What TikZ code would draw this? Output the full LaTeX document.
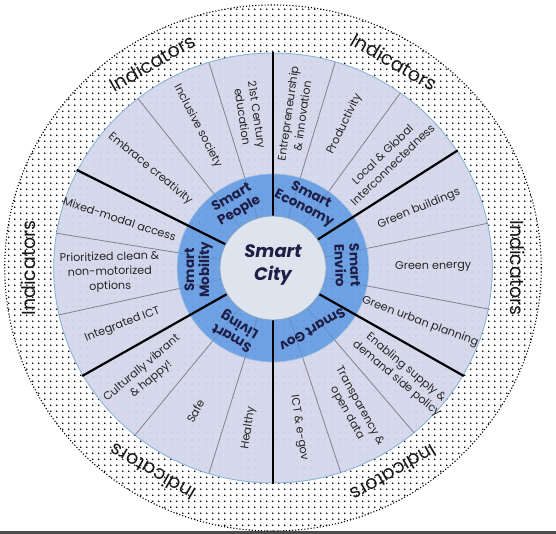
\documentclass[tikz,border=0pt]{standalone}
\usepackage{fontspec}
\setmainfont{Poppins}
\usetikzlibrary{patterns.meta}
\definecolor{lightring}{RGB}{214,216,236}
\definecolor{bluering}{RGB}{110,162,228}
\definecolor{citycol}{RGB}{222,228,238}
\definecolor{navy}{RGB}{30,30,70}
\definecolor{ringedge}{RGB}{140,180,215}
\definecolor{thinline}{RGB}{130,130,142}
\tikzdeclarepattern{
  name=bigdots,
  type=uncolored,
  bounding box={(0pt,0pt) and (6.2pt,6.2pt)},
  tile size={(6.2pt,6.2pt)},
  code={\fill (3.1pt,3.1pt) circle (0.85pt);}
}
\tikzdeclarepattern{
  name=smalldots,
  type=uncolored,
  bounding box={(0pt,0pt) and (7pt,7pt)},
  tile size={(7pt,7pt)},
  code={\fill (3.5pt,3.5pt) circle (0.55pt);}
}
\tikzset{
  item/.style={font=\fontsize{11.2}{14.5}\selectfont, align=center, inner sep=0pt, text=black!85},
  cat/.style={font=\bfseries\fontsize{13.5}{15}\selectfont, text=navy, align=center, inner sep=0pt},
  ind/.style={font=\fontsize{19}{21}\selectfont, inner sep=0pt, text=black!90},
  thin/.style={draw=thinline, line width=0.8pt},
  thinblue/.style={draw=bluering!75!black, line width=0.6pt, opacity=0.5},
  divider/.style={draw=black, line width=2.2pt}
}
\begin{document}
\begin{tikzpicture}[x=1.02pt,y=1pt]
\useasboundingbox (-273pt,-266pt) rectangle (283pt,268pt);
\fill[white] (-273pt,-266pt) rectangle (283pt,268pt);
\fill[black!70] (-273pt,-266pt) rectangle (283pt,-263pt);
% outer dotted ring
\fill[pattern=bigdots, pattern color=black] (0,0) circle[radius=263];
\draw[dotted, line width=1.1pt] (0,0) circle[radius=263];
% light ring
\fill[lightring] (0,0) circle[radius=215];
\fill[pattern=smalldots, pattern color=gray!70] (0,0) circle[radius=215];
\draw[ringedge, line width=0.9pt] (0,0) circle[radius=215];
% thin separators
\foreach \a in {107,128,170.7,192.6,231,253,288,310,349,12,54.5,73.5}
  \draw[thin] (\a:94) -- (\a:215);
% blue ring
\fill[bluering] (0,0) circle[radius=94];
\fill[pattern=smalldots, pattern color=bluering!70!black] (0,0) circle[radius=94];
\draw[ringedge!80!white, line width=0.6pt] (0,0) circle[radius=94];
\foreach \a in {107,128,170.7,192.6,231,253,288,310,349,12,54.5,73.5}
  \draw[thinblue] (\a:52) -- (\a:94);
% dividers
\foreach \a in {90,153,210,270,330,33}
  \draw[divider] (\a:52) -- (\a:216);
% city circle
\fill[citycol] (0,0) circle[radius=52];
\draw[ringedge!70!gray, line width=0.8pt] (0,0) circle[radius=52];
\node[font=\bfseries\itshape\fontsize{18}{23}\selectfont, text=navy, align=center] (city) at (0,3) {Smart\\City};
% category labels
\node[cat, rotate=30] (people) at (120:73) {Smart\\People};
\node[cat, rotate=-27] (economy) at (63:74) {Smart\\Economy};
\node[cat, rotate=-88] (enviro) at (2:73) {Smart\\Enviro};
\node[cat, rotate=-150] (gov) at (-58:73) {Smart Gov};
\node[cat, rotate=150] (living) at (240:72) {Smart\\Living};
\node[cat, rotate=90] (mobility) at (181.5:73) {Smart\\Mobility};
% items: People
\node[item, rotate=98.5-180] (i1) at (98.5:154) {21st Century\\education};
\node[item, rotate=117.5-180] (i2) at (117.5:160) {Inclusive society};
\node[item, rotate=140.5-180] (i3) at (140.5:156) {Embrace creativity};
% Mobility
\node[item, rotate=162-180] (i4) at (162:158) {Mixed-modal access};
\node[item, rotate=181.5-180] (i5) at (181.5:160) {Prioritized clean \&\\non-motorized\\options};
\node[item, rotate=201-180] (i6) at (201:158) {Integrated ICT};
% Living
\node[item, rotate=220.5-180] (i7) at (220.5:163) {Culturally vibrant\\\& happy!};
\node[item, rotate=242-180] (i8) at (242:162) {Safe};
\node[item, rotate=261.5-180] (i9) at (261.5:162) {Healthy};
% Gov
\node[item, rotate=279] (i10) at (279:162) {ICT \& e-gov};
\node[item, rotate=299] (i11) at (299:162) {Transparency \&\\open data};
\node[item, rotate=320] (i12) at (320:164) {Enabling supply \&\\demand side policy};
% Enviro
\node[item, rotate=-20.5] (i13) at (-20.5:154) {Green urban planning};
\node[item, rotate=0.5] (i14) at (0.5:157) {Green energy};
\node[item, rotate=22.5] (i15) at (22.5:155) {Green buildings};
% Economy
\node[item, rotate=44] (i16) at (44:156) {Local \& Global\\Interconnectedness};
\node[item, rotate=64] (i17) at (64:160) {Productivity};
\node[item, rotate=82] (i18) at (82:155) {Entrepreneurship\\\& innovation};
% Indicators
\node[ind, rotate=30] (ind1) at (120:237) {Indicators};
\node[ind, rotate=-30] (ind2) at (60:238) {Indicators};
\node[ind, rotate=-90] (ind3) at (0:240) {Indicators};
\node[ind, rotate=90] (ind4) at (180:240) {Indicators};
\node[ind, rotate=150] (ind5) at (240:236) {Indicators};
\node[ind, rotate=-150] (ind6) at (300:237) {Indicators};
\end{tikzpicture}
\end{document}
